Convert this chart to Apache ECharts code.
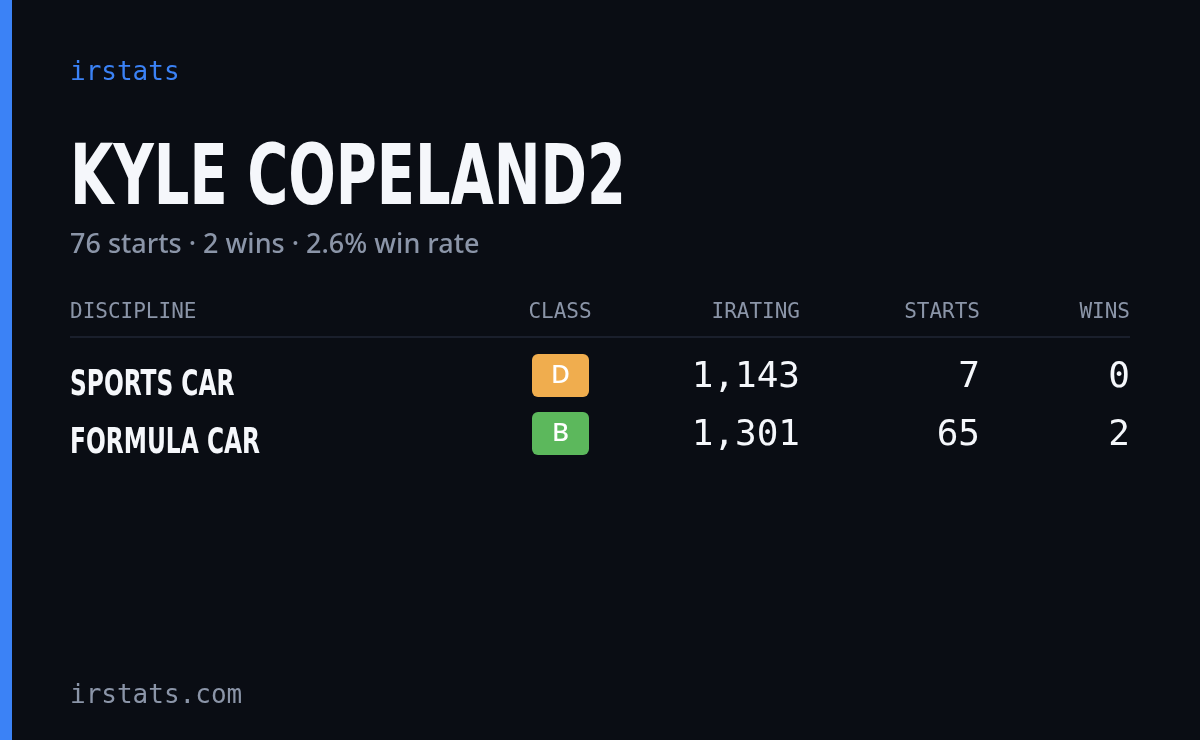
<!DOCTYPE html>
<html>
<head>
<meta charset="utf-8">
<script src="https://cdn.jsdelivr.net/npm/echarts@6/dist/echarts.min.js"></script>
<style>
  html, body { margin: 0; padding: 0; background: #0a0d14; }
  #main { width: 1200px; height: 740px; }
</style>
</head>
<body>
<div id="main"></div>
<script>
// Card data
const driverName = 'KYLE COPELAND2';
const summaryText = '76 starts · 2 wins · 2.6% win rate';
const headers = ['DISCIPLINE', 'CLASS', 'IRATING', 'STARTS', 'WINS'];
const disciplines = ['SPORTS CAR', 'FORMULA CAR'];
const classes = ['D', 'B'];
const iratings = [1143, 1301];
const starts = [7, 65];
const wins = [0, 2];

const classColors = { A: '#3b82f6', B: '#5cb85c', C: '#e6c84f', D: '#f0ad4e', R: '#e05252' };

// Format number
function formatNumber(num) {
    return num.toString().replace(/\B(?=(\d{3})+(?!\d))/g, ",");
}

const mono = '"DejaVu Sans Mono", monospace';
const condensed = '"DejaVu Sans Condensed", "DejaVu Sans", sans-serif';
const muted = '#8b95a8';

const elements = [
    { type: 'rect', shape: { x: 0, y: 0, width: 12, height: 740 }, style: { fill: '#3b82f6' } },
    { type: 'text', x: 70, y: 73, style: { text: 'irstats', fill: '#3b82f6', font: '500 26px ' + mono, textVerticalAlign: 'middle' } },
    {
        type: 'group', x: 70, y: 182, scaleX: 0.74,
        children: [{ type: 'text', style: { text: driverName, fill: '#f5f7fb', font: 'bold 84px ' + condensed, textVerticalAlign: 'middle' } }]
    },
    { type: 'text', x: 70, y: 245, style: { text: summaryText, fill: muted, font: '500 27px "Noto Sans", sans-serif', textVerticalAlign: 'middle' } },
    { type: 'rect', shape: { x: 70, y: 336, width: 1060, height: 2 }, style: { fill: '#1a1f2c' } },
    { type: 'text', x: 70, y: 696, style: { text: 'irstats.com', fill: muted, font: '500 26px ' + mono, textVerticalAlign: 'middle' } }
];

// Column positions: [x, align]
const cols = [[70, 'left'], [560, 'center'], [800, 'right'], [980, 'right'], [1130, 'right']];
headers.forEach((h, i) => {
    elements.push({ type: 'text', x: cols[i][0], y: 313, style: { text: h, fill: muted, font: '500 21px ' + mono, textAlign: cols[i][1], textVerticalAlign: 'middle' } });
});

const rowY = [378, 436];
disciplines.forEach((d, r) => {
    const y = rowY[r];
    elements.push({
        type: 'group', x: 70, y: y + 8, scaleX: 0.72,
        children: [{ type: 'text', style: { text: d, fill: '#f5f7fb', font: 'bold 36px ' + condensed, textVerticalAlign: 'middle' } }]
    });
    elements.push({ type: 'rect', shape: { x: 532, y: y - 24, width: 57, height: 43, r: 6 }, style: { fill: classColors[classes[r]] } });
    elements.push({ type: 'text', x: 560.5, y: y - 2, style: { text: classes[r], fill: '#ffffff', font: '500 26px "Noto Sans", sans-serif', textAlign: 'center', textVerticalAlign: 'middle' } });
    const vals = [formatNumber(iratings[r]), String(starts[r]), String(wins[r])];
    vals.forEach((v, k) => {
        elements.push({ type: 'text', x: cols[k + 2][0], y: y, style: { text: v, fill: '#f5f7fb', font: '500 36px ' + mono, textAlign: 'right', textVerticalAlign: 'middle' } });
    });
});

const chart = echarts.init(document.getElementById('main'));
chart.setOption({
    backgroundColor: '#0a0d14',
    graphic: { elements: elements }
});
</script>
</body>
</html>
